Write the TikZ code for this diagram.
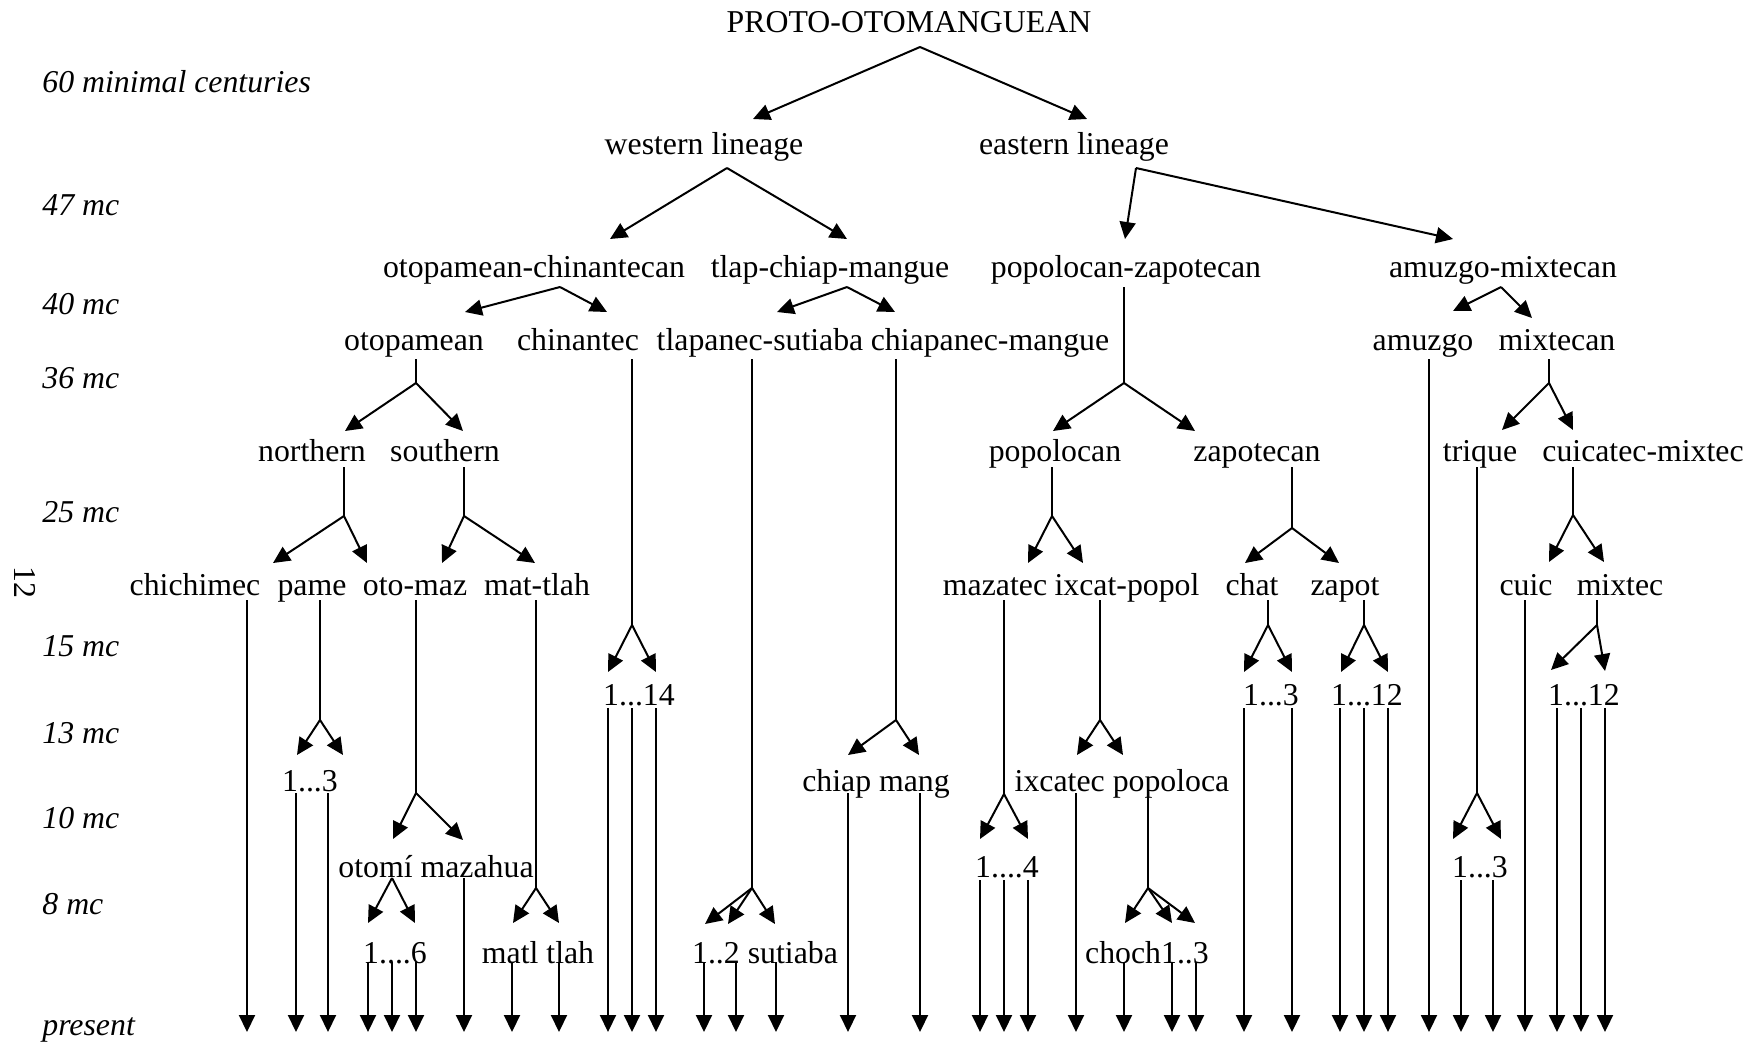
\documentclass[tikz,border=0pt]{standalone}
\usepackage{fontspec}
\setmainfont{Liberation Serif}
\usetikzlibrary{arrows.meta}
\newcommand\dfont{\fontsize{15.9pt}{19pt}\selectfont}
\begin{document}
\begin{tikzpicture}[x=0.5pt,y=-0.5pt,
  ln/.style={line width=1pt},
  arr/.style={line width=1pt,-{Triangle[length=8.5pt,width=8pt]}},
  lab/.style={anchor=base,inner sep=0pt,font=\dfont},
  tm/.style={anchor=base west,inner sep=0pt,font=\dfont\itshape}]
\path[use as bounding box] (0,0) rectangle (1760,1045);
% time axis
\node[tm] (t60) at (42,92) {60 minimal centuries};
\node[tm] (t47) at (42,215) {47 mc};
\node[tm] (t40) at (42,314) {40 mc};
\node[tm] (t36) at (42,388) {36 mc};
\node[tm] (t25) at (42,522) {25 mc};
\node[tm] (t15) at (42,656) {15 mc};
\node[tm] (t13) at (42,743) {13 mc};
\node[tm] (t10) at (42,828) {10 mc};
\node[tm] (t8) at (42,914) {8 mc};
\node[tm] (tp) at (42,1035) {present};
\node[inner sep=0pt,font=\dfont,rotate=-90] (twelve) at (25,582) {12};
% text nodes
\node[lab] (root) at (909,32) {PROTO-OTOMANGUEAN};
\node[lab] (west) at (704,154) {western lineage};
\node[lab] (east) at (1074,154) {eastern lineage};
\node[lab] (otochi) at (534,277) {otopamean-chinantecan};
\node[lab] (tlapchi) at (830,277) {tlap-chiap-mangue};
\node[lab] (popzap) at (1126,277) {popolocan-zapotecan};
\node[lab] (amumix) at (1503,277) {amuzgo-mixtecan};
\node[lab] (otopam) at (414,350) {otopamean};
\node[lab] (chinan) at (578,350) {chinantec};
\node[lab] (tlapsut) at (760,350) {tlapanec-sutiaba};
\node[lab] (chiaman) at (990,350) {chiapanec-mangue};
\node[lab] (amuzgo) at (1423,350) {amuzgo};
\node[lab] (mixtecan) at (1557,350) {mixtecan};
\node[lab] (northern) at (312,461) {northern};
\node[lab] (southern) at (445,461) {southern};
\node[lab] (popolocan) at (1055,461) {popolocan};
\node[lab] (zapotecan) at (1257,461) {zapotecan};
\node[lab] (trique) at (1480,461) {trique};
\node[lab] (cuimix) at (1643,461) {cuicatec-mixtec};
\node[lab] (chichimec) at (195,595) {chichimec};
\node[lab] (pame) at (312,595) {pame};
\node[lab] (otomaz) at (415,595) {oto-maz};
\node[lab] (mattlah) at (537,595) {mat-tlah};
\node[lab] (mazatec) at (995,595) {mazatec};
\node[lab] (ixcpop) at (1127,595) {ixcat-popol};
\node[lab] (chat) at (1252,595) {chat};
\node[lab] (zapot) at (1345,595) {zapot};
\node[lab] (cuic) at (1526,595) {cuic};
\node[lab] (mixtec) at (1620,595) {mixtec};
\node[lab] (chin14) at (639,705) {1...14};
\node[lab] (chat3) at (1271,705) {1...3};
\node[lab] (zap12) at (1367,705) {1...12};
\node[lab] (mix12) at (1584,705) {1...12};
\node[lab] (pame3) at (310,791) {1...3};
\node[lab] (chiapmang) at (876,791) {chiap mang};
\node[lab] (ixcpopl) at (1122,791) {ixcatec popoloca};
\node[lab] (otomaz2) at (436,877) {otomí mazahua};
\node[lab] (maz4) at (1007,877) {1....4};
\node[lab] (triq3) at (1480,877) {1...3};
\node[lab] (oto6) at (395,963) {1....6};
\node[lab] (matltlah) at (538,963) {matl tlah};
\node[lab] (sut) at (765,963) {1..2 sutiaba};
\node[lab] (choch) at (1147,963) {choch1..3};
% junctions
\coordinate (jroot) at (920,47);
\coordinate (jwest) at (727,168);
\coordinate (jeast) at (1136,168);
\coordinate (jotochi) at (560,287);
\coordinate (jtlapchi) at (847,287);
\coordinate (jpopzap) at (1124,383);
\coordinate (jamumix) at (1501,287);
\coordinate (jotopam) at (416,383);
\coordinate (jchinan) at (632,625);
\coordinate (jtlapsut) at (752,888);
\coordinate (jchiaman) at (896,720);
\coordinate (jmixtecan) at (1549,383);
\coordinate (jnorthern) at (344,516);
\coordinate (jsouthern) at (464,516);
\coordinate (jpopolocan) at (1052,516);
\coordinate (jzapotecan) at (1292,528);
\coordinate (jtrique) at (1477,793);
\coordinate (jcuimix) at (1573,515);
\coordinate (jpame) at (320,720);
\coordinate (jotomaz) at (416,793);
\coordinate (jmattlah) at (536,888);
\coordinate (jmazatec) at (1004,794);
\coordinate (jixcpop) at (1100,720);
\coordinate (jchat) at (1268,625);
\coordinate (jzapot) at (1364,625);
\coordinate (jmixtec) at (1597,625);
\coordinate (jpopoloca) at (1148,888);
\coordinate (jotomi) at (392,878);
% row 0-2 branches
\draw[arr] (jroot) -- (753,119);
\draw[arr] (jroot) -- (1087,119);
\draw[arr] (jwest) -- (610,239);
\draw[arr] (jwest) -- (847,239);
\draw[arr] (jeast) -- (1125,239);
\draw[arr] (jeast) -- (1453,239);
\draw[arr] (jotochi) -- (465,312);
\draw[arr] (jotochi) -- (607,312);
\draw[arr] (jtlapchi) -- (777,312);
\draw[arr] (jtlapchi) -- (895,312);
\draw[ln] (1124,287) -- (jpopzap);
\draw[arr] (jpopzap) -- (1053,431);
\draw[arr] (jpopzap) -- (1195,431);
\draw[arr] (jamumix) -- (1453,311);
\draw[arr] (jamumix) -- (1532,318);
% row 3
\draw[ln] (416,359) -- (jotopam);
\draw[arr] (jotopam) -- (345,431);
\draw[arr] (jotopam) -- (463,431);
\draw[ln] (632,359) -- (jchinan);
\draw[arr] (jchinan) -- (608,672);
\draw[arr] (jchinan) -- (656,672);
\draw[ln] (752,359) -- (jtlapsut);
\draw[arr] (jtlapsut) -- (705,924);
\draw[arr] (jtlapsut) -- (728,924);
\draw[arr] (jtlapsut) -- (775,924);
\draw[ln] (896,359) -- (jchiaman);
\draw[arr] (jchiaman) -- (848,755);
\draw[arr] (jchiaman) -- (919,755);
\draw[arr] (1429,359) -- (1429,1032);
\draw[ln] (1549,359) -- (jmixtecan);
\draw[arr] (jmixtecan) -- (1502,430);
\draw[arr] (jmixtecan) -- (1573,430);
% row 4
\draw[ln] (344,467) -- (jnorthern);
\draw[arr] (jnorthern) -- (273,563);
\draw[arr] (jnorthern) -- (367,563);
\draw[ln] (464,467) -- (jsouthern);
\draw[arr] (jsouthern) -- (442,563);
\draw[arr] (jsouthern) -- (535,563);
\draw[ln] (1052,467) -- (jpopolocan);
\draw[arr] (jpopolocan) -- (1028,563);
\draw[arr] (jpopolocan) -- (1083,563);
\draw[ln] (1292,467) -- (jzapotecan);
\draw[arr] (jzapotecan) -- (1245,563);
\draw[arr] (jzapotecan) -- (1339,563);
\draw[ln] (1477,467) -- (jtrique);
\draw[arr] (jtrique) -- (1453,839);
\draw[arr] (jtrique) -- (1501,839);
\draw[ln] (1573,467) -- (jcuimix);
\draw[arr] (jcuimix) -- (1549,562);
\draw[arr] (jcuimix) -- (1604,562);
% row 5
\draw[arr] (247,600) -- (247,1032);
\draw[ln] (320,600) -- (jpame);
\draw[arr] (jpame) -- (297,755);
\draw[arr] (jpame) -- (343,755);
\draw[ln] (416,600) -- (jotomaz);
\draw[arr] (jotomaz) -- (393,839);
\draw[arr] (jotomaz) -- (463,840);
\draw[ln] (536,600) -- (jmattlah);
\draw[arr] (jmattlah) -- (513,923);
\draw[arr] (jmattlah) -- (559,923);
\draw[ln] (1004,600) -- (jmazatec);
\draw[arr] (jmazatec) -- (980,839);
\draw[arr] (jmazatec) -- (1028,839);
\draw[ln] (1100,600) -- (jixcpop);
\draw[arr] (jixcpop) -- (1077,755);
\draw[arr] (jixcpop) -- (1123,755);
\draw[ln] (1268,600) -- (jchat);
\draw[arr] (jchat) -- (1244,672);
\draw[arr] (jchat) -- (1292,672);
\draw[ln] (1364,600) -- (jzapot);
\draw[arr] (jzapot) -- (1341,672);
\draw[arr] (jzapot) -- (1388,672);
\draw[arr] (1525,600) -- (1525,1032);
\draw[ln] (1597,600) -- (jmixtec);
\draw[arr] (jmixtec) -- (1551,670);
\draw[arr] (jmixtec) -- (1605,671);
% row 6 leaves
\foreach \x in {608,632,656,1244,1292,1340,1364,1388,1557,1581,1605}
  \draw[arr] (\x,708) -- (\x,1032);
% row 7
\foreach \x in {296,328,848,920,1076}
  \draw[arr] (\x,793) -- (\x,1032);
\draw[ln] (1148,793) -- (jpopoloca);
\draw[arr] (jpopoloca) -- (1125,923);
\draw[arr] (jpopoloca) -- (1172,923);
\draw[arr] (jpopoloca) -- (1195,923);
% row 8
\draw[arr] (jotomi) -- (368,923);
\draw[arr] (jotomi) -- (415,923);
\draw[arr] (464,878) -- (464,1032);
\foreach \x in {980,1004,1028,1461,1493}
  \draw[arr] (\x,880) -- (\x,1032);
% row 9
\foreach \x in {368,392,416,512,559,704,736,776,1124,1172,1196}
  \draw[arr] (\x,962) -- (\x,1032);
\end{tikzpicture}
\end{document}
